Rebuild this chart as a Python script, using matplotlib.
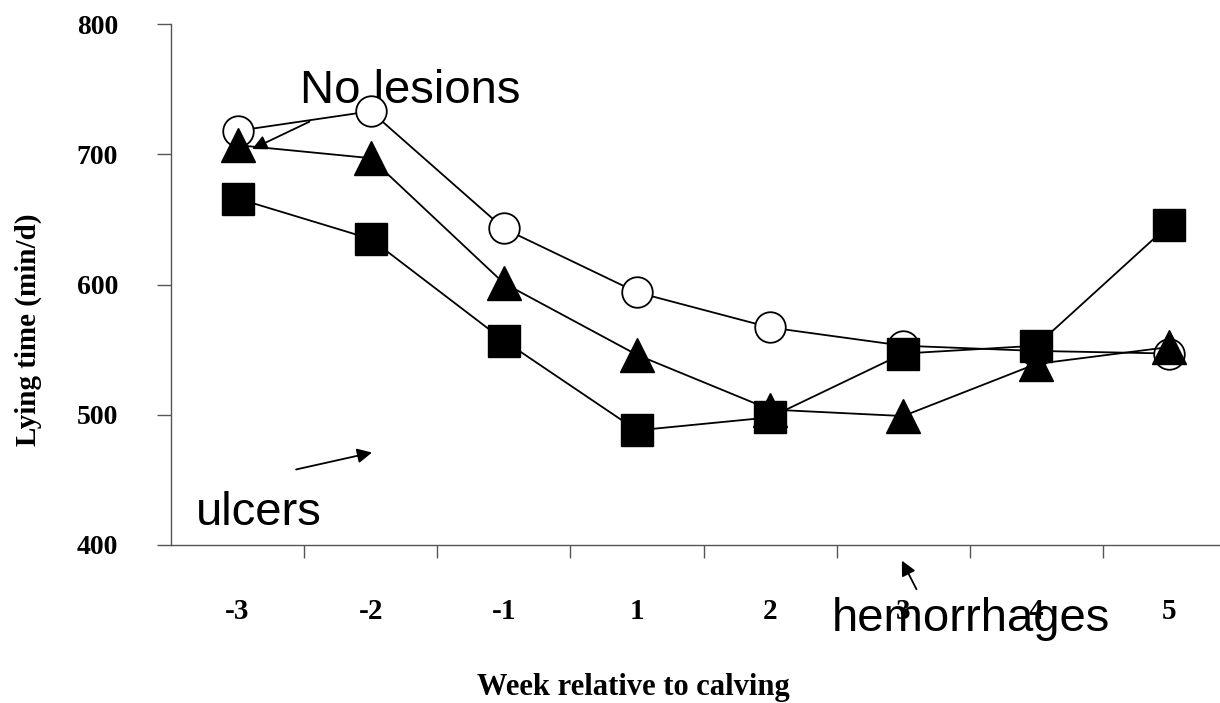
import numpy as np
import matplotlib
matplotlib.use("Agg")
import matplotlib.pyplot as plt

weeks = ["-3", "-2", "-1", "1", "2", "3", "4", "5"]
no_lesions = [718, 733, 643, 594, 567, 553, 549, 547]
hemorrhages = [707, 697, 601, 546, 504, 499, 539, 552]
ulcers = [666, 635, 557, 488, 498, 547, 553, 646]

serif = "Liberation Serif"
sans = "Liberation Sans"

fig = plt.figure(figsize=(12.2, 7.03), dpi=100)
# axes runs slightly past the right edge, as in the original
ax = fig.add_axes([171 / 1220, (703 - 545) / 703, 1065 / 1220, 521 / 703])

x = np.arange(len(weeks))
ax.plot(x, no_lesions, "-o", color="black", lw=1.3, ms=22, mfc="white",
        mec="black", mew=1.3, zorder=3)
ax.plot(x, hemorrhages, "-^", color="black", lw=1.3, ms=25, mfc="black",
        zorder=4)
ax.plot(x, ulcers, "-s", color="black", lw=1.3, ms=23, mfc="black",
        zorder=5)

ax.set_xlim(-0.5, len(weeks) - 0.5)
ax.set_ylim(400, 800)
ax.set_yticks([400, 500, 600, 700, 800])
ax.set_xticks(x)
ax.set_xticklabels(weeks)
ax.set_xticks(np.arange(0.5, len(weeks) - 1, 1.0), minor=True)

for s in ["top", "right"]:
    ax.spines[s].set_visible(False)
for s in ["left", "bottom"]:
    ax.spines[s].set_color("#555555")
    ax.spines[s].set_linewidth(1.0)

ax.tick_params(axis="x", which="major", length=0, pad=38)
ax.tick_params(axis="x", which="minor", length=9, direction="out",
               color="#555555", width=1.0)
ax.tick_params(axis="y", length=10, direction="out", color="#555555",
               width=1.0, pad=28)
for lab in ax.get_xticklabels():
    lab.set_fontfamily(serif)
    lab.set_fontweight("bold")
    lab.set_fontsize(21)
for lab in ax.get_yticklabels():
    lab.set_fontfamily(serif)
    lab.set_fontweight("bold")
    lab.set_fontsize(20)

fig.text(633 / 1220, 1 - 695 / 703, "Week relative to calving", family=serif,
         weight="bold", fontsize=22, ha="center", va="baseline")
fig.text(28 / 1220, 1 - 330 / 703, "Lying time (min/d)", family=serif,
         weight="bold", fontsize=21, ha="center", va="center", rotation=90)

# annotations
ax.text(0.47, 739, "No lesions", family=sans, fontsize=34, va="baseline",
        zorder=2)
ax.text(-0.31, 415, "ulcers", family=sans, fontsize=34, va="baseline")
ax.text(4.46, 334, "hemorrhages", family=sans, fontsize=34, va="baseline",
        clip_on=False)

arrow = dict(arrowstyle="-|>", color="black", lw=1.3, mutation_scale=22,
             shrinkA=0, shrinkB=0)
ax.annotate("", xy=(0.11, 704), xytext=(0.54, 725), arrowprops=arrow,
            annotation_clip=False, zorder=6)
ax.annotate("", xy=(1.01, 471), xytext=(0.44, 458), arrowprops=arrow,
            annotation_clip=False)
ax.annotate("", xy=(4.99, 388), xytext=(5.10, 366), arrowprops=arrow,
            annotation_clip=False)

fig.savefig("out.png", dpi=100)
